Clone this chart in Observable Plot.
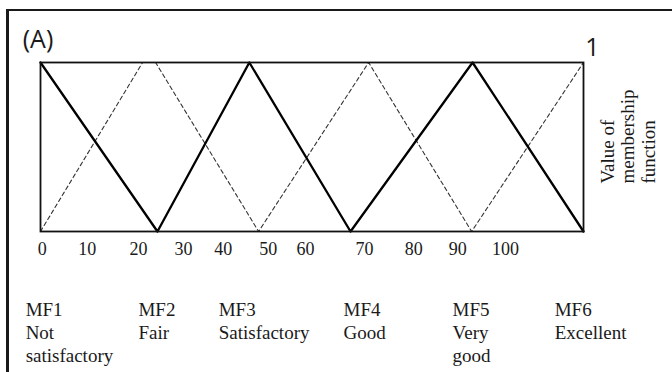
<!DOCTYPE html>
<html><head><meta charset="utf-8">
<script src="https://cdn.jsdelivr.net/npm/d3@7"></script>
<script src="https://cdn.jsdelivr.net/npm/@observablehq/plot@0.6"></script>
<style>
body{margin:0;background:#fff;}
#wrap{position:relative;width:672px;height:372px;overflow:hidden;}
#wrap svg{position:absolute;left:0;top:0;}
#border{position:absolute;left:6px;top:9px;right:-10px;bottom:-10px;border-top:2px solid #1a1a1a;border-left:3px solid #1a1a1a;pointer-events:none;}
</style></head><body><div id="wrap"><div id="border"></div></div>
<script>
// Tick labels along the bottom and where they sit (in axis units)
const tickLabels = ["0","10","20","30","40","50","60","70","80","90","100"];
const tickPositions = [0.4, 10.1, 21.1, 30.8, 39.4, 49.1, 57.1, 69.8, 80.4, 89.9, 100.2];

// Solid membership lines (MF1, MF3, MF5 and their shoulders)
const solidX = [0, 25.2, 45.0, 66.8, 93.1, 117];
const solidY = [1, 0, 1, 0, 1, 0];

// Dashed membership lines (MF2, MF4, MF6)
const dashedX = [0, 22.0, 24.8, 47.0, 70.7, 92.9, 117];
const dashedY = [0, 1, 1, 0, 1, 0, 1];

// Membership function labels
const mfNames = ["MF1","MF2","MF3","MF4","MF5","MF6"];
const mfTerms = ["Not\nsatisfactory","Fair","Satisfactory","Good","Very\ngood","Excellent"];
const mfLabelX = [-3.2, 21.1, 38.4, 65.3, 88.8, 110.8];

const panelLabel = "(A)";
const topValue = "1";
const yTitle = "Value of\nmembership\nfunction";

const solid = solidX.map((x,i)=>({x, y: solidY[i]}));
const dashed = dashedX.map((x,i)=>({x, y: dashedY[i]}));
const mf = mfNames.map((n,i)=>({x: mfLabelX[i], text: n + "\n" + mfTerms[i]}));
const tickMap = new Map(tickPositions.map((p,i)=>[p, tickLabels[i]]));

const serif = "'Liberation Serif','Times New Roman',serif";
const sans = "'Open Sans',sans-serif";

const chart = Plot.plot({
  width: 672, height: 372,
  marginLeft: 40, marginRight: 89, marginTop: 62, marginBottom: 141,
  x: {domain: [0, 117], label: null},
  y: {domain: [0, 1], axis: null, label: null},
  style: {fontFamily: serif, background: "transparent", color: "#1a1a1a", overflow: "visible"},
  marks: [
    Plot.line(dashed, {x: "x", y: "y", stroke: "#333", strokeWidth: 1.1, strokeDasharray: "4,3"}),
    Plot.line(solid, {x: "x", y: "y", stroke: "#000", strokeWidth: 2.3}),
    Plot.frame({stroke: "#111", strokeWidth: 1.8}),
    Plot.axisX(tickPositions, {tickSize: 0, tickPadding: 11, tickFormat: d => tickMap.get(d), label: null, fontSize: 18, fontFamily: serif, fill: "#1a1a1a"}),
    Plot.text(mf, {x: "x", text: "text", frameAnchor: "bottom", dy: 68.5, textAnchor: "start", lineAnchor: "top", lineHeight: 1.2, fontSize: 19, fontFamily: serif, fill: "#1a1a1a"}),
    Plot.text([yTitle], {text: d => d, frameAnchor: "bottom-right", dx: 15.5, dy: -48, rotate: -90, textAnchor: "start", lineAnchor: "top", lineHeight: 1.08, fontSize: 19, fontFamily: serif, fill: "#1a1a1a"}),
    Plot.text([panelLabel], {text: d => d, frameAnchor: "top-left", dx: -2.5, dy: -15, textAnchor: "middle", lineAnchor: "bottom", fontSize: 25, fontFamily: sans, fill: "#1a1a1a"}),
    Plot.text([topValue], {text: d => d, frameAnchor: "top-right", dx: 9, dy: -7, textAnchor: "middle", lineAnchor: "bottom", fontSize: 25, fontFamily: sans, fill: "#1a1a1a"})
  ]
});
document.getElementById("wrap").prepend(chart);
</script>
</body></html>
